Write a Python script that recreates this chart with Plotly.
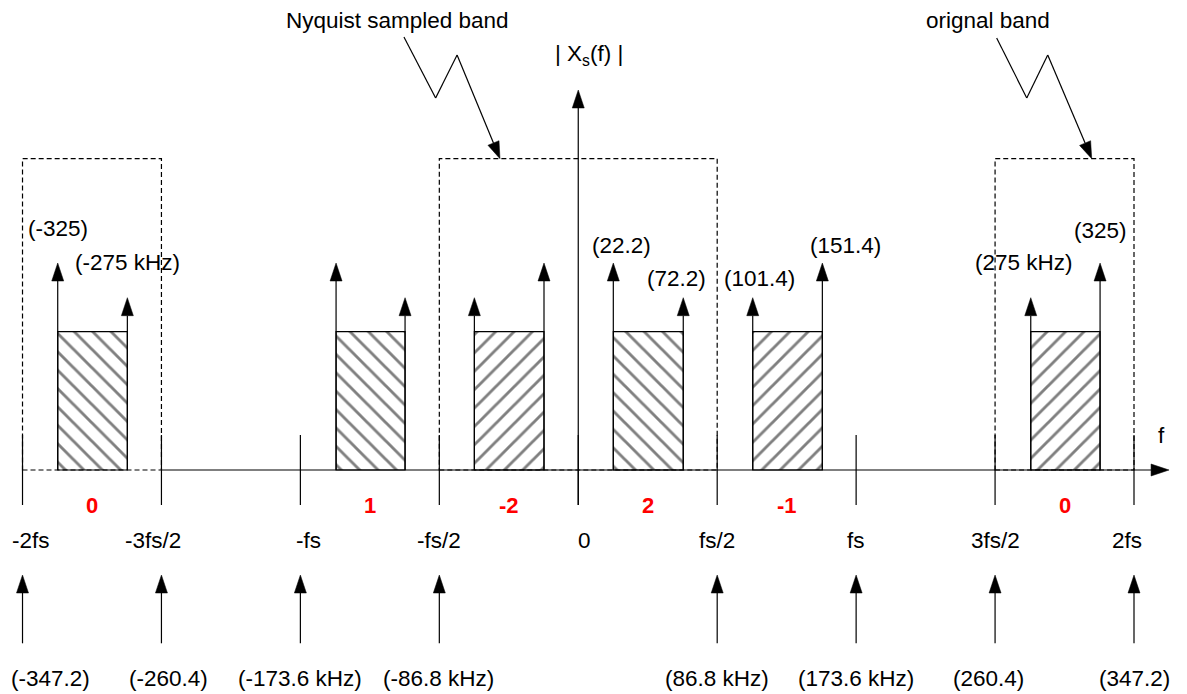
import math
import plotly.graph_objects as go

# ---------------- data (kHz) ----------------
tick_pos = [-347.2, -260.4, -173.6, -86.8, 0.0, 86.8, 173.6, 260.4, 347.2]
tick_text = ["-2fs", "-3fs/2", "-fs", "-fs/2", "0", "fs/2", "fs", "3fs/2", "2fs"]
khz_text = ["(-347.2)", "(-260.4)", "(-173.6 kHz)", "(-86.8 kHz)", "",
            "(86.8 kHz)", "(173.6 kHz)", "(260.4)", "(347.2)"]

band_lo = [-325.2, -151.3, -64.9, 21.9, 109.0, 282.7]
band_hi = [-281.7, -108.2, -21.4, 65.6, 152.5, 326.0]
band_hatch = ["\\", "\\", "/", "\\", "/", "/"]
band_level = 138.3
tall_side = ["lo", "lo", "hi", "lo", "hi", "hi"]
tall_amp = 207.0
short_amp = 172.3
edge_label_lo = ["(-325)", "", "", "(22.2)", "(101.4)", "(275 kHz)"]
edge_label_hi = ["(-275 kHz)", "", "", "(72.2)", "(151.4)", "(325)"]

zone_centers = [-303.8, -130.2, -43.4, 43.4, 130.2, 303.8]
zone_index = ["0", "1", "-2", "2", "-1", "0"]

boxes_lo = [-347.2, -86.8, 260.4]
boxes_hi = [-260.4, 86.8, 347.2]
box_top = 311.3

callout_text = ["Nyquist sampled band", "orignal band"]
callout_text_x = [-113.2, 255.9]
callout_x = [[-108.9, -89.1, -75.7, -48.9], [261.4, 280.2, 293.3, 320.8]]
callout_y = [[433.0, 372.0, 415.0, 311.3], [432.0, 372.0, 415.0, 311.3]]

xaxis_start, xaxis_end = -260.4, 369.1
yaxis_bottom, yaxis_top = -35.0, 380.0

# ---------------- layout geometry ----------------
W, H = 1187, 694
X0, X1 = -361.26, 380.31
Y0, Y1 = -224.0, 470.0
sx = W / (X1 - X0)
LW = 1.2
FONT = "Liberation Sans, Arial, sans-serif"
FS_TXT = 22.5

shapes = []
annotations = []


def line(x0, y0, x1, y1, dash=None):
    d = dict(type="line", xref="x", yref="y", x0=x0, y0=y0, x1=x1, y1=y1,
             line=dict(color="black", width=LW))
    if dash:
        d["line"]["dash"] = dash
    shapes.append(d)


def to_px(x, y):
    return (x - X0) * sx, (Y1 - y)


def to_data(px, py):
    return px / sx + X0, Y1 - py


def arrow(fx, fy, tx, ty, L=18.0, hw=6.0):
    tpx, tpy = to_px(tx, ty)
    fpx, fpy = to_px(fx, fy)
    dx, dy = tpx - fpx, tpy - fpy
    d = math.hypot(dx, dy)
    ux, uy = dx / d, dy / d
    bx, by = tpx - L * ux, tpy - L * uy
    nx, ny = -uy, ux
    pts = [(tpx, tpy), (bx + hw * nx, by + hw * ny), (bx - hw * nx, by - hw * ny)]
    pts = [to_data(*p) for p in pts]
    path = "M {:.4f},{:.4f} L {:.4f},{:.4f} L {:.4f},{:.4f} Z".format(
        pts[0][0], pts[0][1], pts[1][0], pts[1][1], pts[2][0], pts[2][1])
    shapes.append(dict(type="path", xref="x", yref="y", path=path,
                       fillcolor="black", line=dict(color="black", width=0.5)))
    bxd, byd = to_data(bx, by)
    line(fx, fy, bxd, byd)


def text(x, y, s, size=FS_TXT, color="black", bold=False, xshift=0, yshift=0):
    if bold:
        s = "<b>" + s + "</b>"
    annotations.append(dict(x=x, y=y, xref="x", yref="y", text=s, showarrow=False,
                            xanchor="center", yanchor="middle",
                            xshift=xshift, yshift=yshift,
                            font=dict(family=FONT, size=size, color=color)))


fig = go.Figure()

# hatched bands
fig.add_trace(go.Bar(
    x=[(a + b) / 2 for a, b in zip(band_lo, band_hi)],
    y=[band_level] * len(band_lo),
    width=[b - a for a, b in zip(band_lo, band_hi)],
    base=0,
    marker=dict(color="white", line=dict(color="black", width=LW),
                pattern=dict(shape=band_hatch, fgcolor="black", bgcolor="white",
                             size=13, solidity=0.22)),
    hoverinfo="skip", showlegend=False))

# dashed boxes
for a, b in zip(boxes_lo, boxes_hi):
    shapes.append(dict(type="rect", xref="x", yref="y", x0=a, x1=b, y0=0, y1=box_top,
                       line=dict(color="black", width=LW, dash="5px,3px"),
                       fillcolor="rgba(0,0,0,0)"))

# axes
arrow(xaxis_start, 0, xaxis_end, 0)
arrow(0, yaxis_bottom, 0, yaxis_top)
text(364.6, 35, "f")
text(6.7, 415, "| X<sub>s</sub>(f) |")

# ticks and tick labels
tick_label_shift = [8, -8, 8, 0, 6, 0, 0, 0, -7.5]
khz_label_shift = [27.5, 7, 0, -1, 0, 0, 0, -7, 0]
for p, t, k, s1, s2 in zip(tick_pos, tick_text, khz_text, tick_label_shift, khz_label_shift):
    line(p, -35, p, 35)
    text(p, -70.7, t, xshift=s1)
    if k:
        arrow(p, -173.3, p, -105)
        text(p, -208, k, xshift=s2)

# band edge arrows + labels
label_shift_lo = [(0, 35), None, None, (8, 18), (7, 19), (-7, 35)]
label_shift_hi = [(0, 35), None, None, (-7, 19), (23, 18), (0, 33)]
for i in range(len(band_lo)):
    amp_lo = tall_amp if tall_side[i] == "lo" else short_amp
    amp_hi = tall_amp if tall_side[i] == "hi" else short_amp
    arrow(band_lo[i], 0, band_lo[i], amp_lo)
    arrow(band_hi[i], 0, band_hi[i], amp_hi)
    if edge_label_lo[i]:
        dx, dy = label_shift_lo[i]
        text(band_lo[i], amp_lo + dy, edge_label_lo[i], xshift=dx)
    if edge_label_hi[i]:
        dx, dy = label_shift_hi[i]
        text(band_hi[i], amp_hi + dy, edge_label_hi[i], xshift=dx)

# zone indices
for c, z in zip(zone_centers, zone_index):
    text(c, -35, z, size=22, color="#FF0000", bold=True)

# callouts
for t, tx, xs, ys in zip(callout_text, callout_text_x, callout_x, callout_y):
    for j in range(len(xs) - 2):
        line(xs[j], ys[j], xs[j + 1], ys[j + 1])
    arrow(xs[-2], ys[-2], xs[-1], ys[-1], L=17, hw=6)
    text(tx, 450, t)

fig.update_layout(
    width=W, height=H, margin=dict(l=0, r=0, t=0, b=0),
    paper_bgcolor="white", plot_bgcolor="white",
    xaxis=dict(range=[X0, X1], visible=False, fixedrange=True),
    yaxis=dict(range=[Y0, Y1], visible=False, fixedrange=True),
    shapes=shapes, annotations=annotations, barmode="overlay",
    showlegend=False,
)

fig.write_html("out.html", config={"displayModeBar": False},
               post_script="document.body.style.margin='0px';document.body.style.overflow='hidden';")
